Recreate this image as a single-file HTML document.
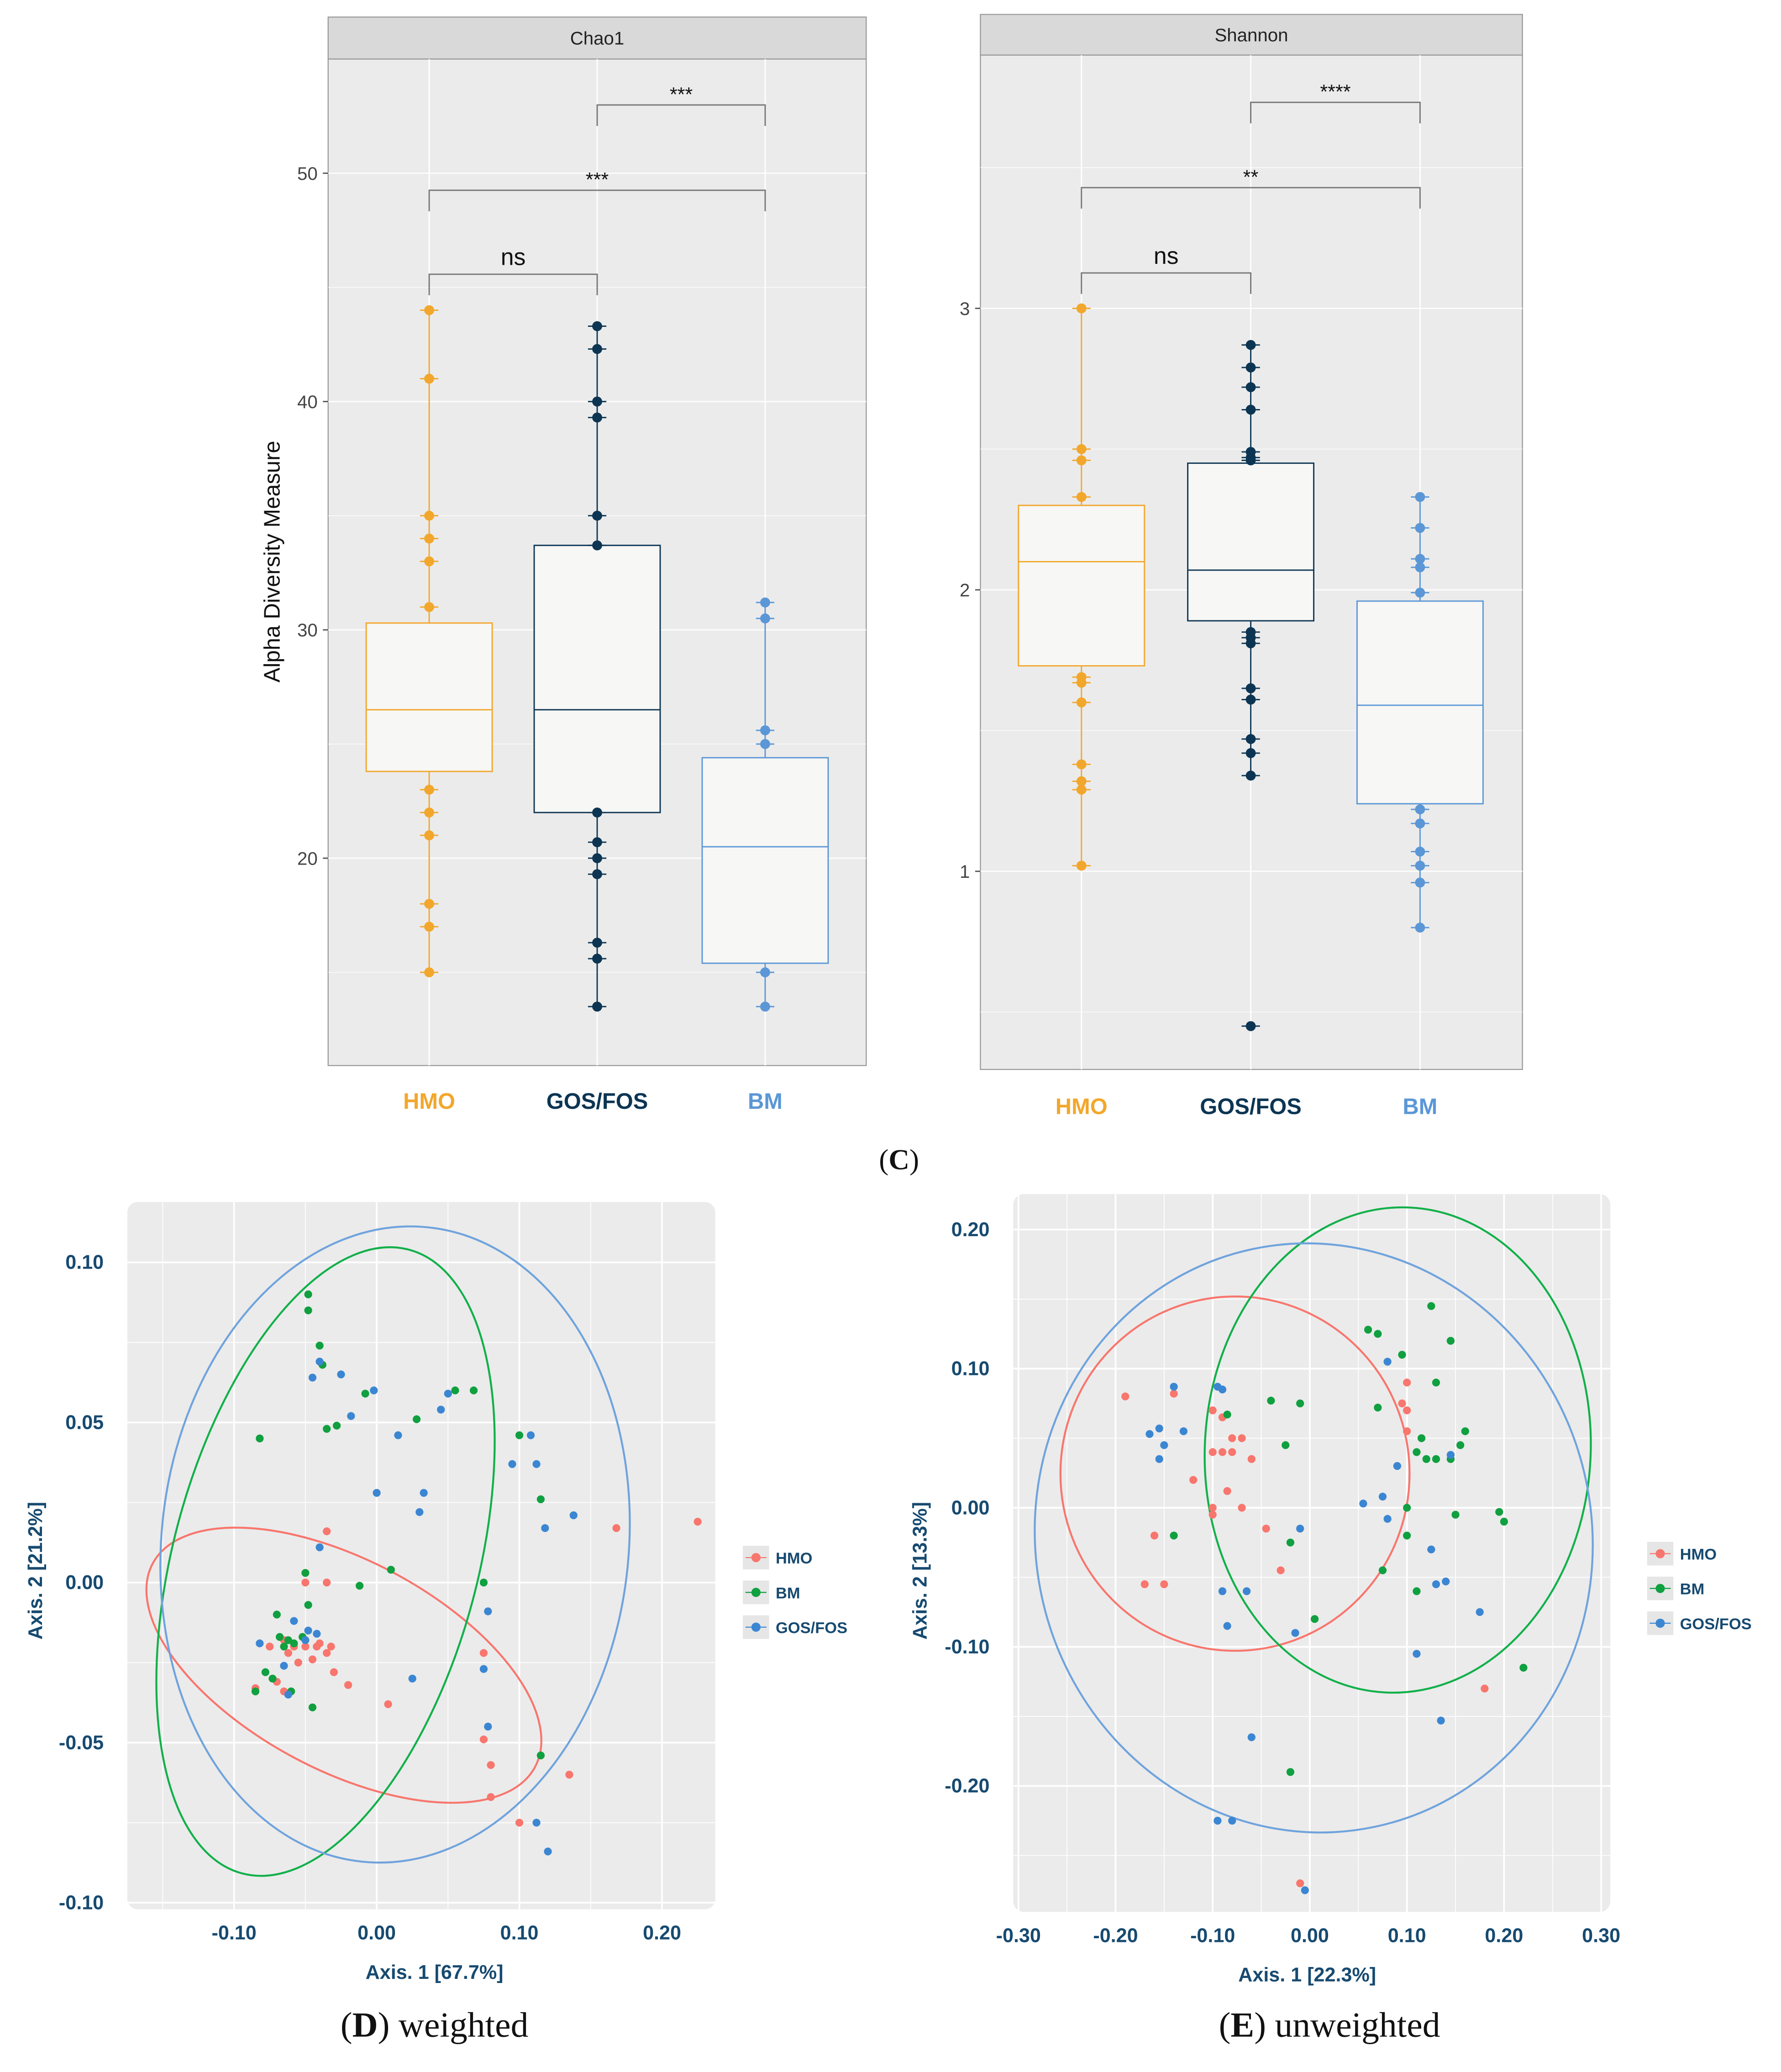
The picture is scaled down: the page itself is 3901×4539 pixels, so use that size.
<!DOCTYPE html>
<html><head><meta charset="utf-8"><style>
html,body{margin:0;padding:0;background:#fff;}
svg{display:block;font-family:"Liberation Sans",sans-serif;}
</style></head><body>
<svg id="s" width="3901" height="4539" viewBox="0 0 1357 1579" xmlns="http://www.w3.org/2000/svg"></svg>
<script>
// ---- Chao1 data ----
const chaoCats=["HMO","GOS/FOS","BM"];
const chaoQ1=[23.8,22,15.4], chaoMed=[26.5,26.5,20.5], chaoQ3=[30.3,33.7,24.4];
const chaoLo=[15,13.5,13.5], chaoHi=[44,43.3,31.2];
const chaoHMO=[44,41,35,34,33,31,23,22,21,18,17,15];
const chaoGOS=[43.3,42.3,40,39.3,35,33.7,22,20.7,20,19.3,16.3,15.6,13.5];
const chaoBM=[31.2,30.5,25.6,25,15,13.5];
const chaoTicks=[20,30,40,50];
// ---- Shannon data ----
const shQ1=[1.73,1.89,1.24], shMed=[2.1,2.07,1.59], shQ3=[2.3,2.45,1.96];
const shLo=[1.02,1.34,0.8], shHi=[3.0,2.87,2.33];
const shHMO=[3.0,2.5,2.46,2.33,1.69,1.67,1.6,1.38,1.32,1.29,1.02];
const shGOS=[2.87,2.79,2.72,2.64,2.49,2.47,2.46,1.85,1.83,1.81,1.65,1.61,1.47,1.42,1.34,0.45];
const shBM=[2.33,2.22,2.11,2.08,1.99,1.22,1.17,1.07,1.02,0.96,0.8];
const shTicks=[1,2,3];
// ---- PCoA weighted (D) ----
const dHMOx=[-0.085,-0.075,-0.07,-0.065,-0.062,-0.058,-0.055,-0.05,-0.045,-0.042,-0.04,-0.035,-0.032,-0.03,-0.02,0.008,-0.035,-0.035,-0.05,0.075,0.075,0.08,0.08,0.1,0.135,0.168,0.225,-0.065];
const dHMOy=[-0.033,-0.02,-0.031,-0.018,-0.022,-0.02,-0.025,-0.02,-0.024,-0.02,-0.019,-0.022,-0.02,-0.028,-0.032,-0.038,0.016,0.0,0.0,-0.022,-0.049,-0.057,-0.067,-0.075,-0.06,0.017,0.019,-0.034];
const dBMx=[-0.048,-0.048,-0.04,-0.038,-0.035,-0.028,-0.008,0.028,0.055,0.068,-0.082,0.115,0.1,0.075,0.01,-0.012,-0.05,-0.048,-0.07,-0.068,-0.062,-0.058,-0.052,-0.065,-0.073,-0.078,-0.085,-0.06,-0.045,0.115];
const dBMy=[0.09,0.085,0.074,0.068,0.048,0.049,0.059,0.051,0.06,0.06,0.045,0.026,0.046,0.0,0.004,-0.001,0.003,-0.007,-0.01,-0.017,-0.018,-0.019,-0.017,-0.02,-0.03,-0.028,-0.034,-0.034,-0.039,-0.054];
const dGOSx=[-0.045,-0.04,-0.025,-0.018,-0.002,0.015,0.05,0.045,0.0,0.033,0.03,0.095,0.108,0.112,0.118,0.138,-0.04,-0.082,-0.058,-0.048,-0.042,-0.05,-0.065,-0.062,0.025,0.078,0.075,0.078,0.112,0.12];
const dGOSy=[0.064,0.069,0.065,0.052,0.06,0.046,0.059,0.054,0.028,0.028,0.022,0.037,0.046,0.037,0.017,0.021,0.011,-0.019,-0.012,-0.015,-0.016,-0.018,-0.026,-0.035,-0.03,-0.009,-0.027,-0.045,-0.075,-0.084];
const dXTicks=[-0.10,0.00,0.10,0.20], dYTicks=[-0.10,-0.05,0.00,0.05,0.10];
// ---- PCoA unweighted (E) ----
const eHMOx=[-0.19,-0.1,-0.09,-0.08,-0.07,-0.1,-0.09,-0.08,-0.06,-0.12,-0.1,-0.1,-0.085,-0.07,-0.16,-0.15,-0.17,-0.045,-0.03,0.1,0.095,0.1,0.1,0.09,0.18,-0.01,-0.14];
const eHMOy=[0.08,0.07,0.065,0.05,0.05,0.04,0.04,0.04,0.035,0.02,0.0,-0.005,0.012,0.0,-0.02,-0.055,-0.055,-0.015,-0.045,0.09,0.075,0.07,0.055,0.03,-0.13,-0.27,0.082];
const eBMx=[0.06,0.07,0.095,0.125,0.145,0.13,0.16,0.155,0.115,0.12,0.13,0.145,0.11,0.07,0.1,0.1,0.15,0.195,0.2,0.22,0.11,0.075,-0.14,-0.085,-0.04,-0.01,-0.025,-0.02,0.005,-0.02];
const eBMy=[0.128,0.125,0.11,0.145,0.12,0.09,0.055,0.045,0.05,0.035,0.035,0.035,0.04,0.072,0.0,-0.02,-0.005,-0.003,-0.01,-0.115,-0.06,-0.045,-0.02,0.067,0.077,0.075,0.045,-0.025,-0.08,-0.19];
const eGOSx=[-0.14,-0.165,-0.155,-0.15,-0.155,-0.13,-0.09,-0.095,0.08,0.09,0.055,0.075,0.08,0.125,0.13,0.14,0.175,0.11,0.135,0.145,-0.01,-0.015,-0.09,-0.085,-0.065,-0.06,-0.095,-0.08,-0.005];
const eGOSy=[0.087,0.053,0.057,0.045,0.035,0.055,0.085,0.087,0.105,0.03,0.003,0.008,-0.008,-0.03,-0.055,-0.053,-0.075,-0.105,-0.153,0.038,-0.015,-0.09,-0.06,-0.085,-0.06,-0.165,-0.225,-0.225,-0.275];
const eXTicks=[-0.30,-0.20,-0.10,0.00,0.10,0.20,0.30], eYTicks=[-0.20,-0.10,0.00,0.10,0.20];

const S=document.getElementById('s'), NS="http://www.w3.org/2000/svg";
function mk(t,a,txt){const e=document.createElementNS(NS,t);for(const k in a)e.setAttribute(k,a[k]);if(txt!==undefined)e.textContent=txt;S.appendChild(e);return e;}
const C=["#f2a72c","#0c3553","#5b97d6"];

function boxPanel(o){
  const {x0,x1,yTop,yStrip,yBot,title,y,ticks,fmt,q1,med,q3,lo,hi,pts,cx,brk,labY}=o;
  let e=mk('rect',{x:x0,y:yTop,width:x1-x0,height:yStrip-yTop,fill:"#d9d9d9",stroke:"#999","stroke-width":0.8});
  
  e=mk('text',{x:(x0+x1)/2,y:(yTop+yStrip)/2+5,"text-anchor":"middle","font-size":14,fill:"#222"},title);
  
  e=mk('rect',{x:x0,y:yStrip,width:x1-x0,height:yBot-yStrip,fill:"#ebebeb",stroke:"#999","stroke-width":0.8});
  
  const step=ticks[1]-ticks[0];
  for(let v=ticks[0]-step/2;v<=ticks[ticks.length-1]+step;v+=step/2){const py=y(v);if(py>yStrip&&py<yBot)mk('line',{x1:x0,x2:x1,y1:py,y2:py,stroke:"#fff","stroke-width":Math.abs((v-ticks[0])/step%1)<1e-6?1:0.5,opacity:0.9});}
  cx.forEach(c=>mk('line',{x1:c,x2:c,y1:yStrip,y2:yBot,stroke:"#fff","stroke-width":1}));
  ticks.forEach(v=>{mk('line',{x1:x0-4,x2:x0,y1:y(v),y2:y(v),stroke:"#555"});
    e=mk('text',{x:x0-8,y:y(v)+5,"text-anchor":"end","font-size":14,fill:"#444"},fmt(v));
    });
  for(let i=0;i<3;i++){
    const c=cx[i];
    mk('line',{x1:c,x2:c,y1:y(hi[i]),y2:y(lo[i]),stroke:C[i],"stroke-width":1});
    e=mk('rect',{x:c-48,y:y(q3[i]),width:96,height:y(q1[i])-y(q3[i]),fill:"#f7f7f5",stroke:C[i],"stroke-width":1});
    
    mk('line',{x1:c-48,x2:c+48,y1:y(med[i]),y2:y(med[i]),stroke:C[i],"stroke-width":1});
    pts[i].forEach(v=>{mk('line',{x1:c-7,x2:c+7,y1:y(v),y2:y(v),stroke:C[i],"stroke-width":1});
      e=mk('circle',{cx:c,cy:y(v),r:3.8,fill:C[i]});});
    e=mk('text',{x:c,y:labY,"text-anchor":"middle","font-size":17,"font-weight":"bold",fill:C[i]},chaoCats[i]);
    
  }
  brk.forEach(b=>{const [a,bb,yy,lab,fs]=b;
    mk('path',{d:`M${cx[a]},${yy+16}V${yy}H${cx[bb]}V${yy+16}`,fill:"none",stroke:"#777","stroke-width":1});
    e=mk('text',{x:(cx[a]+cx[bb])/2,y:yy-(lab=="ns"?7:3),"text-anchor":"middle","font-size":fs,fill:"#111"},lab);
    });
}
const cy1=v=>654-(v-20)*17.4;
boxPanel({x0:250,x1:660,yTop:13,yStrip:45,yBot:812,title:"Chao1",y:cy1,ticks:chaoTicks,fmt:v=>v,q1:chaoQ1,med:chaoMed,q3:chaoQ3,lo:chaoLo,hi:chaoHi,pts:[chaoHMO,chaoGOS,chaoBM],cx:[327,455,583],
  brk:[[0,1,209,"ns",18],[0,2,145,"***",15],[1,2,80,"***",15]],labY:845});
const sy=v=>664-(v-1)*214.5;
boxPanel({x0:747,x1:1160,yTop:11,yStrip:42,yBot:815,title:"Shannon",y:sy,ticks:shTicks,fmt:v=>v,q1:shQ1,med:shMed,q3:shQ3,lo:shLo,hi:shHi,pts:[shHMO,shGOS,shBM],cx:[824,953,1082],
  brk:[[0,1,208,"ns",18],[0,2,143,"**",15],[1,2,78,"****",15]],labY:849});
let t=mk('text',{x:213,y:428,"text-anchor":"middle","font-size":17,fill:"#111",transform:"rotate(-90 213 428)"},"Alpha Diversity Measure");

t=mk('text',{x:685,y:891,"text-anchor":"middle","font-size":22,fill:"#111","font-family":"Liberation Serif,serif"});
t.innerHTML='(<tspan font-weight="bold">C</tspan>)';

const PC=["#f8766d","#10a040","#3b86d2"], EC=["#f8766d","#12b04a","#6fa3dd"];
const NAV="#174a70";
function pcoa(o){
  const {x0,x1,y0,y1,X,Y,xt,yt,sets,ells,leg,xl,yl,capX,cap,capB,name}=o;
  let e=mk('rect',{x:x0,y:y0,width:x1-x0,height:y1-y0,rx:8,fill:"#ebebeb"});
  
  const xs=xt[1]-xt[0], ys=yt[1]-yt[0];
  for(let v=xt[0]-xs;v<=xt[xt.length-1]+xs;v+=xs/2){const p=X(v);if(p>x0+2&&p<x1-2)mk('line',{x1:p,x2:p,y1:y0,y2:y1,stroke:"#fff","stroke-width":Math.abs(Math.round(v/xs)*xs-v)<1e-6?1.3:0.6});}
  for(let v=yt[0]-ys;v<=yt[yt.length-1]+ys;v+=ys/2){const p=Y(v);if(p>y0+2&&p<y1-2)mk('line',{x1:x0,x2:x1,y1:p,y2:p,stroke:"#fff","stroke-width":Math.abs(Math.round(v/ys)*ys-v)<1e-6?1.3:0.6});}
  xt.forEach(v=>{e=mk('text',{x:X(v),y:y1+23,"text-anchor":"middle","font-size":15,"font-weight":"bold",fill:NAV},v.toFixed(2));});
  yt.forEach(v=>{e=mk('text',{x:x0-18,y:Y(v)+5,"text-anchor":"end","font-size":15,"font-weight":"bold",fill:NAV},v.toFixed(2));});
  ells.forEach((el,i)=>{e=mk('ellipse',{cx:el[0],cy:el[1],rx:el[2],ry:el[3],transform:`rotate(${el[4]} ${el[0]} ${el[1]})`,fill:"none",stroke:EC[i],"stroke-width":1.5});
    });
  sets.forEach((s,i)=>s[0].forEach((v,j)=>{e=mk('circle',{cx:X(v),cy:Y(s[1][j]),r:3,fill:PC[i]});}));
  ["HMO","BM","GOS/FOS"].forEach((n,i)=>{const ly=leg[1]+i*26.5;
    e=mk('rect',{x:leg[0],y:ly-9,width:20,height:18,fill:"#e6e6e6"});
    mk('line',{x1:leg[0]+2,x2:leg[0]+18,y1:ly,y2:ly,stroke:PC[i],"stroke-width":0.8});
    mk('circle',{cx:leg[0]+10,cy:ly,r:3.5,fill:PC[i]});
    e=mk('text',{x:leg[0]+25,y:ly+4.5,"font-size":12,"font-weight":"bold",fill:NAV},n);});
  e=mk('text',{x:xl[0],y:xl[1],"text-anchor":"middle","font-size":15,"font-weight":"bold",fill:NAV},xl[2]);
  e=mk('text',{x:yl[0],y:yl[1],"text-anchor":"middle","font-size":15,"font-weight":"bold",fill:NAV,transform:`rotate(-90 ${yl[0]} ${yl[1]})`},yl[2]);
  e=mk('text',{x:capX,y:1552,"text-anchor":"middle","font-size":27,fill:"#111","font-family":"Liberation Serif,serif"});
  e.innerHTML='(<tspan font-weight="bold">'+capB+'</tspan>) '+cap;
}
pcoa({name:"weighted",x0:97,x1:545,y0:916,y1:1455,X:v=>287+v*1087,Y:v=>1206-v*2440,xt:dXTicks,yt:dYTicks,
  sets:[[dHMOx,dHMOy],[dBMx,dBMy],[dGOSx,dGOSy]],
  ells:[[262,1269,165,80,28],[248,1190,116,246,15],[301,1177,178,243,6]],
  leg:[566,1187],xl:[331,1508,"Axis. 1 [67.7%]"],yl:[32,1197,"Axis. 2 [21.2%]"],capX:331,capB:"D",cap:"weighted"});
pcoa({name:"unweighted",x0:772,x1:1227,y0:910,y1:1457,X:v=>998+v*740,Y:v=>1149-v*1060,xt:eXTicks,yt:eYTicks,
  sets:[[eHMOx,eHMOy],[eBMx,eBMy],[eGOSx,eGOSy]],
  ells:[[941,1123,133,135,0],[1065,1105,147,185,3],[1001,1172,212,225,-12]],
  leg:[1255,1184],xl:[996,1510,"Axis. 1 [22.3%]"],yl:[706,1197,"Axis. 2 [13.3%]"],capX:1013,capB:"E",cap:"unweighted"});
</script>
</body></html>
